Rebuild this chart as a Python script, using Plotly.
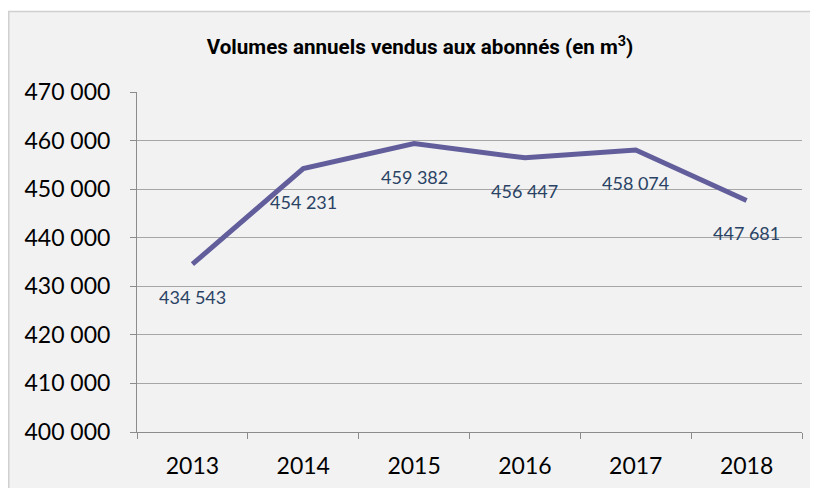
import plotly.graph_objects as go

years = ["2013", "2014", "2015", "2016", "2017", "2018"]
volumes = [434543, 454231, 459382, 456447, 458074, 447681]
title_text = "Volumes annuels vendus aux abonnés (en m<sup>3</sup>)"

def fmt(v):
    return f"{v:,}".replace(",", " ")

fig = go.Figure()
fig.add_trace(go.Scatter(
    x=years, y=volumes, mode="lines",
    line=dict(color="#625E9C", width=5),
    hoverinfo="skip", showlegend=False,
))

for i, v in enumerate(volumes):
    fig.add_annotation(x=i, y=v, text=fmt(v), showarrow=False,
                       yshift=-33, font=dict(family="Lato, Calibri, sans-serif", size=18, color="#2A4365"))

# page is offset by the 8px default body margin
OFF = 8
W, H = 818, 488
L, T = 137 - OFF, 92 - OFF
pw, ph = 665, 340
R = W - L - pw
B = H - T - ph

fig.add_shape(type="rect", xref="paper", yref="paper", layer="below",
              x0=(0.75 - L) / pw, x1=(W + 5 - L) / pw,
              y0=-(B + 10) / ph, y1=(T + ph - (11.5 - OFF)) / ph,
              fillcolor="#F2F2F2", line=dict(color="#D0D0D0", width=1.5))

fig.update_layout(
    width=W, height=H,
    margin=dict(l=L, r=R, t=T, b=B, autoexpand=False),
    paper_bgcolor="white", plot_bgcolor="rgba(0,0,0,0)",
    separators=", ",
    title=dict(text=title_text, x=(420 - OFF) / W, xanchor="center", y=1 - (47 - OFF) / H,
               yanchor="middle", yref="container",
               font=dict(family="Roboto, Liberation Sans, Arial", size=20.6,
                         color="black", weight="bold")),
    xaxis=dict(type="category", range=[-0.5, len(years) - 0.5], showgrid=False, showline=True,
               linecolor="#8C8C8C", linewidth=1,
               ticks="outside", tickson="boundaries", ticklen=6, tickcolor="#8C8C8C",
               tickfont=dict(family="Lato, Calibri, sans-serif", size=23, color="black"),
               tickangle=0, ticklabelstandoff=13, fixedrange=True, automargin=False),
    yaxis=dict(range=[400000, 470000], dtick=10000, tickformat=",d", showgrid=True,
               gridcolor="#A6A6A6", gridwidth=1, showline=True, linecolor="#8C8C8C", linewidth=1,
               ticks="outside", ticklen=6, tickcolor="#8C8C8C", zeroline=False,
               tickfont=dict(family="Lato, Calibri, sans-serif", size=23, color="black"),
               ticklabelstandoff=15, fixedrange=True, automargin=False),
)

fig.write_html("out.html")
